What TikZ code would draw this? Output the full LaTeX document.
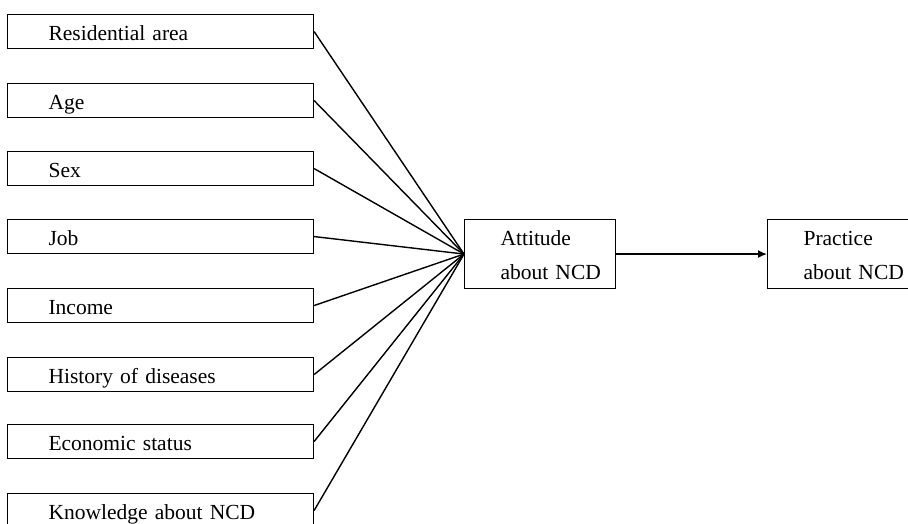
\documentclass[tikz,border=0pt]{standalone}
\usepackage{fontspec}
\setmainfont{Liberation Serif}[WordSpace=1.5]
\usetikzlibrary{arrows.meta}
\begin{document}
\begin{tikzpicture}[x=1pt,y=-1pt,
  base/.style={draw, line width=1.1pt, rectangle, anchor=north west, inner xsep=0pt, align=left,
    font=\fontsize{21.5}{34}\selectfont},
  inbox/.style={base, minimum height=34pt, inner ysep=0pt, text width=306pt, text height=17pt, text depth=0pt},
  twobox/.style={base, inner ysep=9pt, text height=17pt, text depth=34pt},
  conn/.style={line width=1.4pt}]
\useasboundingbox (0,0) rectangle (908,524);
\clip (0,0) rectangle (908,524);
\node[inbox] (res) at (7,14)  {\hspace*{41pt}Residential area};
\node[inbox] (age) at (7,83)  {\hspace*{41pt}Age};
\node[inbox] (sex) at (7,151) {\hspace*{41pt}Sex};
\node[inbox] (job) at (7,219) {\hspace*{41pt}Job};
\node[inbox] (inc) at (7,288) {\hspace*{41pt}Income};
\node[inbox] (his) at (7,357) {\hspace*{41pt}History of diseases};
\node[inbox] (eco) at (7,424) {\hspace*{41pt}Economic status};
\node[inbox] (kno) at (7,493) {\hspace*{41pt}Knowledge about NCD};
\node[twobox, text width=151pt] (att) at (464,219) {\hspace*{36pt}Attitude\\\hspace*{36pt}about NCD};
\node[twobox, text width=143pt] (pra) at (767,219) {\hspace*{36pt}Practice\\\hspace*{36pt}about NCD};
\foreach \n in {res,age,sex,job,inc,his,eco,kno}
  \draw[conn] (\n.east) -- (att.west);
\draw[conn,-{Latex[length=9pt,width=8pt]}] (att.east) -- (pra.west);
\end{tikzpicture}
\end{document}
